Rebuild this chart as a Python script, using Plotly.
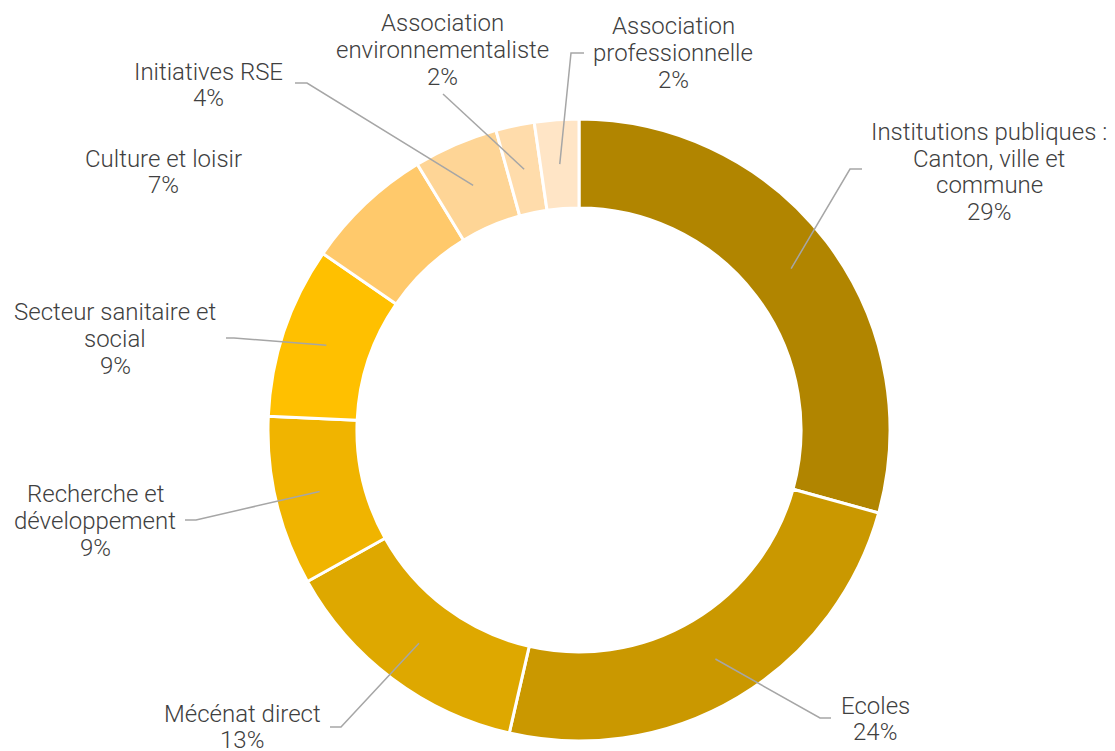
import math
import plotly.graph_objects as go

# ---- data ----
categories = [
    "Institutions publiques :<br>Canton, ville et<br>commune",
    "Ecoles",
    "Mécénat direct",
    "Recherche et<br>développement",
    "Secteur sanitaire et<br>social",
    "Culture et loisir",
    "Initiatives RSE",
    "Association<br>environnementaliste",
    "Association<br>professionnelle",
]
values = [29.3, 24.3, 13.3, 8.8, 8.9, 6.7, 4.4, 2.0, 2.3]
colors = ["#B18500", "#CA9800", "#DEA800", "#F0B400", "#FFC000",
          "#FFC96B", "#FED596", "#FFDCAB", "#FFE5C6"]

# ---- layout (pixels) ----
W, H = 1115, 751
CX, CY, R = 579, 430, 311
HOLE = 0.714
FONT_SIZE = 24
LINE_STEP = 26.8

# label block centres (px) and leader bend/end points (px); None = no leader
label_pos = [(989, 172), (875, 719), (242, 727), (95, 521), (115, 339),
             (163, 172), (208, 85), (442, 50), (673, 53)]
leader_pts = [
    [(850, 169), (862, 169)],
    [(820, 718), (831, 718)],
    [(341, 727), (330, 727)],
    [(196, 520), (185, 520)],
    [(234, 338), (226, 338)],
    None,
    [(307, 83), (295, 83)],
    [(443, 94)],
    [(571, 53), (584, 53)],
]


def px(x):
    return x / W


def py(y):
    return 1 - y / H


fig = go.Figure(go.Pie(
    labels=categories,
    values=values,
    hole=HOLE,
    sort=False,
    direction="clockwise",
    rotation=0,
    textinfo="none",
    marker=dict(colors=colors, line=dict(color="white", width=3)),
    domain=dict(x=[px(CX - R), px(CX + R)], y=[py(CY + R), py(CY - R)]),
    showlegend=False,
    hoverinfo="label+percent",
))

total = sum(values)
cum = 0.0
rmid = R * (1 + HOLE) / 2
annotations = []
shapes = []
for i, (lab, v) in enumerate(zip(categories, values)):
    mid = (cum + v / 2) / total * 2 * math.pi
    cum += v
    sx = CX + rmid * math.sin(mid)
    sy = CY - rmid * math.cos(mid)
    pct = round(v / total * 100)
    lines = lab.split("<br>") + [f"{pct}%"]
    lx, ly = label_pos[i]
    n = len(lines)
    for k, line in enumerate(lines):
        yy = ly + (k - (n - 1) / 2) * LINE_STEP
        annotations.append(dict(
            x=px(lx), y=py(yy), xref="paper", yref="paper",
            text=line, showarrow=False,
            xanchor="center", yanchor="middle", align="center",
            font=dict(family="Roboto, Arial, sans-serif", size=FONT_SIZE,
                      color="#404040", weight=300),
        ))
    if leader_pts[i]:
        pts = [(sx, sy)] + leader_pts[i]
        path = "M " + " L ".join(f"{px(a)},{py(b)}" for a, b in pts)
        shapes.append(dict(type="path", path=path, xref="paper", yref="paper",
                           line=dict(color="#A6A6A6", width=1.5)))

fig.update_layout(
    width=W, height=H,
    margin=dict(l=0, r=0, t=0, b=0),
    paper_bgcolor="white", plot_bgcolor="white",
    annotations=annotations, shapes=shapes,
)

fig.write_html("out.html",
               config={"displayModeBar": False},
               post_script="document.body.style.margin='0px';"
                           "document.body.style.overflow='hidden';")
